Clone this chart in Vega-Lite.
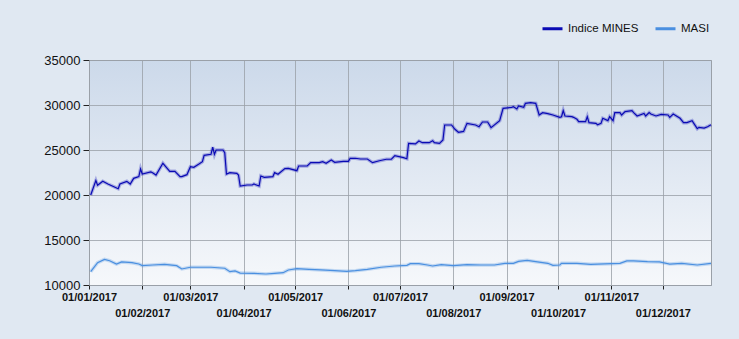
{
  "$schema": "https://vega.github.io/schema/vega-lite/v6.json",
  "autosize": "none",
  "width": 622,
  "height": 225,
  "padding": {"left": 89, "top": 60, "right": 28, "bottom": 54},
  "background": "#e0e8f2",
  "config": {
    "view": {
      "stroke": "#9aa0a8",
      "strokeWidth": 1,
      "fill": {"gradient": "linear", "x1": 0, "y1": 0, "x2": 0, "y2": 1, "stops": [{"offset": 0, "color": "#ccd9ea"}, {"offset": 1, "color": "#f6f8fb"}]}
    },
    "font": "Liberation Sans"
  },
  "data": {"values": [
    {"d":"2017/01/02","s":"Indice MINES","v":20000},
    {"d":"2017/01/05","s":"Indice MINES","v":21600},
    {"d":"2017/01/06","s":"Indice MINES","v":21080},
    {"d":"2017/01/09","s":"Indice MINES","v":21520},
    {"d":"2017/01/12","s":"Indice MINES","v":21220},
    {"d":"2017/01/18","s":"Indice MINES","v":20700},
    {"d":"2017/01/19","s":"Indice MINES","v":21220},
    {"d":"2017/01/23","s":"Indice MINES","v":21520},
    {"d":"2017/01/25","s":"Indice MINES","v":21220},
    {"d":"2017/01/27","s":"Indice MINES","v":21850},
    {"d":"2017/01/30","s":"Indice MINES","v":22040},
    {"d":"2017/01/31","s":"Indice MINES","v":22890},
    {"d":"2017/02/01","s":"Indice MINES","v":22330},
    {"d":"2017/02/06","s":"Indice MINES","v":22560},
    {"d":"2017/02/07","s":"Indice MINES","v":22480},
    {"d":"2017/02/09","s":"Indice MINES","v":22220},
    {"d":"2017/02/13","s":"Indice MINES","v":23520},
    {"d":"2017/02/16","s":"Indice MINES","v":22850},
    {"d":"2017/02/17","s":"Indice MINES","v":22630},
    {"d":"2017/02/20","s":"Indice MINES","v":22630},
    {"d":"2017/02/23","s":"Indice MINES","v":22040},
    {"d":"2017/02/24","s":"Indice MINES","v":22040},
    {"d":"2017/02/27","s":"Indice MINES","v":22260},
    {"d":"2017/03/01","s":"Indice MINES","v":23150},
    {"d":"2017/03/03","s":"Indice MINES","v":23070},
    {"d":"2017/03/06","s":"Indice MINES","v":23440},
    {"d":"2017/03/08","s":"Indice MINES","v":23700},
    {"d":"2017/03/09","s":"Indice MINES","v":24400},
    {"d":"2017/03/13","s":"Indice MINES","v":24520},
    {"d":"2017/03/14","s":"Indice MINES","v":25330},
    {"d":"2017/03/15","s":"Indice MINES","v":24520},
    {"d":"2017/03/16","s":"Indice MINES","v":25000},
    {"d":"2017/03/20","s":"Indice MINES","v":25000},
    {"d":"2017/03/21","s":"Indice MINES","v":24700},
    {"d":"2017/03/22","s":"Indice MINES","v":22330},
    {"d":"2017/03/24","s":"Indice MINES","v":22480},
    {"d":"2017/03/28","s":"Indice MINES","v":22400},
    {"d":"2017/03/29","s":"Indice MINES","v":22220},
    {"d":"2017/03/30","s":"Indice MINES","v":21000},
    {"d":"2017/04/03","s":"Indice MINES","v":21110},
    {"d":"2017/04/06","s":"Indice MINES","v":21110},
    {"d":"2017/04/07","s":"Indice MINES","v":21220},
    {"d":"2017/04/10","s":"Indice MINES","v":21000},
    {"d":"2017/04/11","s":"Indice MINES","v":22110},
    {"d":"2017/04/13","s":"Indice MINES","v":21960},
    {"d":"2017/04/18","s":"Indice MINES","v":22040},
    {"d":"2017/04/19","s":"Indice MINES","v":22480},
    {"d":"2017/04/21","s":"Indice MINES","v":22300},
    {"d":"2017/04/25","s":"Indice MINES","v":22930},
    {"d":"2017/04/27","s":"Indice MINES","v":22960},
    {"d":"2017/05/02","s":"Indice MINES","v":22700},
    {"d":"2017/05/03","s":"Indice MINES","v":23220},
    {"d":"2017/05/08","s":"Indice MINES","v":23220},
    {"d":"2017/05/10","s":"Indice MINES","v":23590},
    {"d":"2017/05/15","s":"Indice MINES","v":23590},
    {"d":"2017/05/17","s":"Indice MINES","v":23700},
    {"d":"2017/05/19","s":"Indice MINES","v":23520},
    {"d":"2017/05/22","s":"Indice MINES","v":23890},
    {"d":"2017/05/24","s":"Indice MINES","v":23630},
    {"d":"2017/05/29","s":"Indice MINES","v":23740},
    {"d":"2017/06/01","s":"Indice MINES","v":23740},
    {"d":"2017/06/02","s":"Indice MINES","v":24080},
    {"d":"2017/06/05","s":"Indice MINES","v":24080},
    {"d":"2017/06/08","s":"Indice MINES","v":24000},
    {"d":"2017/06/12","s":"Indice MINES","v":24000},
    {"d":"2017/06/15","s":"Indice MINES","v":23590},
    {"d":"2017/06/19","s":"Indice MINES","v":23810},
    {"d":"2017/06/23","s":"Indice MINES","v":23970},
    {"d":"2017/06/26","s":"Indice MINES","v":23970},
    {"d":"2017/06/28","s":"Indice MINES","v":24370},
    {"d":"2017/07/03","s":"Indice MINES","v":24150},
    {"d":"2017/07/05","s":"Indice MINES","v":24030},
    {"d":"2017/07/06","s":"Indice MINES","v":25740},
    {"d":"2017/07/10","s":"Indice MINES","v":25670},
    {"d":"2017/07/12","s":"Indice MINES","v":26000},
    {"d":"2017/07/14","s":"Indice MINES","v":25810},
    {"d":"2017/07/18","s":"Indice MINES","v":25810},
    {"d":"2017/07/20","s":"Indice MINES","v":26030},
    {"d":"2017/07/21","s":"Indice MINES","v":25810},
    {"d":"2017/07/24","s":"Indice MINES","v":25740},
    {"d":"2017/07/26","s":"Indice MINES","v":26110},
    {"d":"2017/07/27","s":"Indice MINES","v":27780},
    {"d":"2017/07/31","s":"Indice MINES","v":27780},
    {"d":"2017/08/02","s":"Indice MINES","v":27300},
    {"d":"2017/08/04","s":"Indice MINES","v":26970},
    {"d":"2017/08/07","s":"Indice MINES","v":27070},
    {"d":"2017/08/09","s":"Indice MINES","v":27960},
    {"d":"2017/08/14","s":"Indice MINES","v":27780},
    {"d":"2017/08/16","s":"Indice MINES","v":27590},
    {"d":"2017/08/18","s":"Indice MINES","v":28110},
    {"d":"2017/08/21","s":"Indice MINES","v":28110},
    {"d":"2017/08/23","s":"Indice MINES","v":27480},
    {"d":"2017/08/28","s":"Indice MINES","v":28260},
    {"d":"2017/08/30","s":"Indice MINES","v":29630},
    {"d":"2017/09/04","s":"Indice MINES","v":29740},
    {"d":"2017/09/05","s":"Indice MINES","v":29810},
    {"d":"2017/09/07","s":"Indice MINES","v":29560},
    {"d":"2017/09/08","s":"Indice MINES","v":29890},
    {"d":"2017/09/11","s":"Indice MINES","v":29740},
    {"d":"2017/09/12","s":"Indice MINES","v":30190},
    {"d":"2017/09/15","s":"Indice MINES","v":30260},
    {"d":"2017/09/18","s":"Indice MINES","v":30190},
    {"d":"2017/09/20","s":"Indice MINES","v":28890},
    {"d":"2017/09/22","s":"Indice MINES","v":29140},
    {"d":"2017/09/25","s":"Indice MINES","v":29040},
    {"d":"2017/09/28","s":"Indice MINES","v":28890},
    {"d":"2017/10/02","s":"Indice MINES","v":28630},
    {"d":"2017/10/03","s":"Indice MINES","v":28700},
    {"d":"2017/10/04","s":"Indice MINES","v":29370},
    {"d":"2017/10/05","s":"Indice MINES","v":28780},
    {"d":"2017/10/09","s":"Indice MINES","v":28700},
    {"d":"2017/10/10","s":"Indice MINES","v":28630},
    {"d":"2017/10/12","s":"Indice MINES","v":28410},
    {"d":"2017/10/13","s":"Indice MINES","v":28150},
    {"d":"2017/10/17","s":"Indice MINES","v":28150},
    {"d":"2017/10/18","s":"Indice MINES","v":28700},
    {"d":"2017/10/19","s":"Indice MINES","v":28040},
    {"d":"2017/10/23","s":"Indice MINES","v":27960},
    {"d":"2017/10/24","s":"Indice MINES","v":27810},
    {"d":"2017/10/26","s":"Indice MINES","v":27960},
    {"d":"2017/10/27","s":"Indice MINES","v":28520},
    {"d":"2017/10/30","s":"Indice MINES","v":28260},
    {"d":"2017/10/31","s":"Indice MINES","v":28700},
    {"d":"2017/11/02","s":"Indice MINES","v":28260},
    {"d":"2017/11/03","s":"Indice MINES","v":29150},
    {"d":"2017/11/06","s":"Indice MINES","v":29150},
    {"d":"2017/11/07","s":"Indice MINES","v":28890},
    {"d":"2017/11/09","s":"Indice MINES","v":29260},
    {"d":"2017/11/13","s":"Indice MINES","v":29370},
    {"d":"2017/11/14","s":"Indice MINES","v":29150},
    {"d":"2017/11/16","s":"Indice MINES","v":28780},
    {"d":"2017/11/20","s":"Indice MINES","v":29070},
    {"d":"2017/11/21","s":"Indice MINES","v":28780},
    {"d":"2017/11/23","s":"Indice MINES","v":29150},
    {"d":"2017/11/24","s":"Indice MINES","v":29000},
    {"d":"2017/11/27","s":"Indice MINES","v":28780},
    {"d":"2017/11/30","s":"Indice MINES","v":28960},
    {"d":"2017/12/04","s":"Indice MINES","v":28890},
    {"d":"2017/12/05","s":"Indice MINES","v":28630},
    {"d":"2017/12/07","s":"Indice MINES","v":29000},
    {"d":"2017/12/11","s":"Indice MINES","v":28520},
    {"d":"2017/12/13","s":"Indice MINES","v":28040},
    {"d":"2017/12/15","s":"Indice MINES","v":28040},
    {"d":"2017/12/18","s":"Indice MINES","v":28260},
    {"d":"2017/12/19","s":"Indice MINES","v":27960},
    {"d":"2017/12/21","s":"Indice MINES","v":27370},
    {"d":"2017/12/22","s":"Indice MINES","v":27520},
    {"d":"2017/12/25","s":"Indice MINES","v":27440},
    {"d":"2017/12/27","s":"Indice MINES","v":27590},
    {"d":"2017/12/29","s":"Indice MINES","v":27810},
    {"d":"2017/01/02","s":"MASI","v":11480},
    {"d":"2017/01/03","s":"MASI","v":11740},
    {"d":"2017/01/06","s":"MASI","v":12480},
    {"d":"2017/01/10","s":"MASI","v":12850},
    {"d":"2017/01/13","s":"MASI","v":12700},
    {"d":"2017/01/17","s":"MASI","v":12330},
    {"d":"2017/01/20","s":"MASI","v":12560},
    {"d":"2017/01/26","s":"MASI","v":12480},
    {"d":"2017/01/30","s":"MASI","v":12330},
    {"d":"2017/02/01","s":"MASI","v":12150},
    {"d":"2017/02/07","s":"MASI","v":12220},
    {"d":"2017/02/14","s":"MASI","v":12300},
    {"d":"2017/02/21","s":"MASI","v":12150},
    {"d":"2017/02/24","s":"MASI","v":11780},
    {"d":"2017/03/01","s":"MASI","v":11970},
    {"d":"2017/03/07","s":"MASI","v":11970},
    {"d":"2017/03/13","s":"MASI","v":11970},
    {"d":"2017/03/21","s":"MASI","v":11860},
    {"d":"2017/03/24","s":"MASI","v":11480},
    {"d":"2017/03/27","s":"MASI","v":11560},
    {"d":"2017/03/30","s":"MASI","v":11330},
    {"d":"2017/04/07","s":"MASI","v":11300},
    {"d":"2017/04/14","s":"MASI","v":11220},
    {"d":"2017/04/19","s":"MASI","v":11300},
    {"d":"2017/04/24","s":"MASI","v":11370},
    {"d":"2017/04/27","s":"MASI","v":11670},
    {"d":"2017/05/02","s":"MASI","v":11810},
    {"d":"2017/05/09","s":"MASI","v":11740},
    {"d":"2017/05/16","s":"MASI","v":11670},
    {"d":"2017/05/24","s":"MASI","v":11590},
    {"d":"2017/05/31","s":"MASI","v":11520},
    {"d":"2017/06/05","s":"MASI","v":11590},
    {"d":"2017/06/12","s":"MASI","v":11740},
    {"d":"2017/06/20","s":"MASI","v":11970},
    {"d":"2017/06/28","s":"MASI","v":12110},
    {"d":"2017/07/05","s":"MASI","v":12190},
    {"d":"2017/07/07","s":"MASI","v":12370},
    {"d":"2017/07/12","s":"MASI","v":12370},
    {"d":"2017/07/17","s":"MASI","v":12220},
    {"d":"2017/07/20","s":"MASI","v":12110},
    {"d":"2017/07/25","s":"MASI","v":12260},
    {"d":"2017/08/01","s":"MASI","v":12150},
    {"d":"2017/08/09","s":"MASI","v":12260},
    {"d":"2017/08/17","s":"MASI","v":12220},
    {"d":"2017/08/25","s":"MASI","v":12220},
    {"d":"2017/08/31","s":"MASI","v":12410},
    {"d":"2017/09/05","s":"MASI","v":12410},
    {"d":"2017/09/08","s":"MASI","v":12630},
    {"d":"2017/09/13","s":"MASI","v":12740},
    {"d":"2017/09/18","s":"MASI","v":12590},
    {"d":"2017/09/25","s":"MASI","v":12410},
    {"d":"2017/09/28","s":"MASI","v":12190},
    {"d":"2017/10/02","s":"MASI","v":12220},
    {"d":"2017/10/03","s":"MASI","v":12410},
    {"d":"2017/10/12","s":"MASI","v":12410},
    {"d":"2017/10/20","s":"MASI","v":12300},
    {"d":"2017/11/01","s":"MASI","v":12370},
    {"d":"2017/11/06","s":"MASI","v":12410},
    {"d":"2017/11/10","s":"MASI","v":12670},
    {"d":"2017/11/14","s":"MASI","v":12670},
    {"d":"2017/11/22","s":"MASI","v":12590},
    {"d":"2017/11/29","s":"MASI","v":12560},
    {"d":"2017/12/05","s":"MASI","v":12330},
    {"d":"2017/12/12","s":"MASI","v":12410},
    {"d":"2017/12/21","s":"MASI","v":12220},
    {"d":"2017/12/29","s":"MASI","v":12400}
  ]},
  "encoding": {
    "x": {
      "field": "d", "type": "temporal", "title": null,
      "scale": {"domain": [{"year": 2017, "month": 1, "date": 1}, {"year": 2017, "month": 12, "date": 29}]},
      "axis": {
        "values": [
          {"year": 2017, "month": 1, "date": 1}, {"year": 2017, "month": 2, "date": 1},
          {"year": 2017, "month": 3, "date": 1}, {"year": 2017, "month": 4, "date": 1},
          {"year": 2017, "month": 5, "date": 1}, {"year": 2017, "month": 6, "date": 1},
          {"year": 2017, "month": 7, "date": 1}, {"year": 2017, "month": 8, "date": 1},
          {"year": 2017, "month": 9, "date": 1}, {"year": 2017, "month": 10, "date": 1},
          {"year": 2017, "month": 11, "date": 1}, {"year": 2017, "month": 12, "date": 1}
        ],
        "format": "%d/%m/%Y",
        "labelExpr": "month(datum.value) % 2 == 0 ? datum.label : ['', datum.label]",
        "labelOverlap": false,
        "labelFlush": false,
        "labelFont": "Liberation Sans",
        "labelFontWeight": "bold",
        "labelFontSize": 11,
        "labelColor": "#111111",
        "labelLineHeight": 16,
        "labelPadding": 2,
        "tickSize": 4,
        "tickColor": "#222222",
        "domainColor": "#9aa0a8",
        "gridColor": "#9aa0a8",
        "gridOpacity": 0.8
      }
    },
    "y": {
      "field": "v", "type": "quantitative", "title": null,
      "scale": {"domain": [10000, 35000], "nice": false, "zero": false},
      "axis": {
        "values": [10000, 15000, 20000, 25000, 30000, 35000],
        "format": "d",
        "labelFont": "Liberation Sans",
        "labelFontSize": 13,
        "labelColor": "#111111",
        "labelPadding": 3,
        "tickSize": 6,
        "tickColor": "#222222",
        "domainColor": "#9aa0a8",
        "gridColor": "#9aa0a8",
        "gridOpacity": 0.8
      }
    },
    "color": {
      "field": "s", "type": "nominal", "title": null,
      "scale": {"domain": ["Indice MINES", "MASI"], "range": ["#0a0ab4", "#4a8fe0"]},
      "legend": {
        "orient": "none",
        "legendX": 452,
        "legendY": -43,
        "direction": "horizontal",
        "symbolType": "stroke",
        "symbolStrokeWidth": 3,
        "symbolSize": 400,
        "symbolOpacity": 1,
        "labelFont": "Liberation Sans",
        "labelFontSize": 11.5,
        "labelColor": "#111111",
        "columnPadding": 10,
        "labelOffset": 4
      }
    }
  },
  "layer": [
    {"mark": {"type": "line", "strokeWidth": 3.5, "opacity": 0.28, "interpolate": "linear"}},
    {"mark": {"type": "line", "strokeWidth": 1.2, "interpolate": "linear"}}
  ]
}
